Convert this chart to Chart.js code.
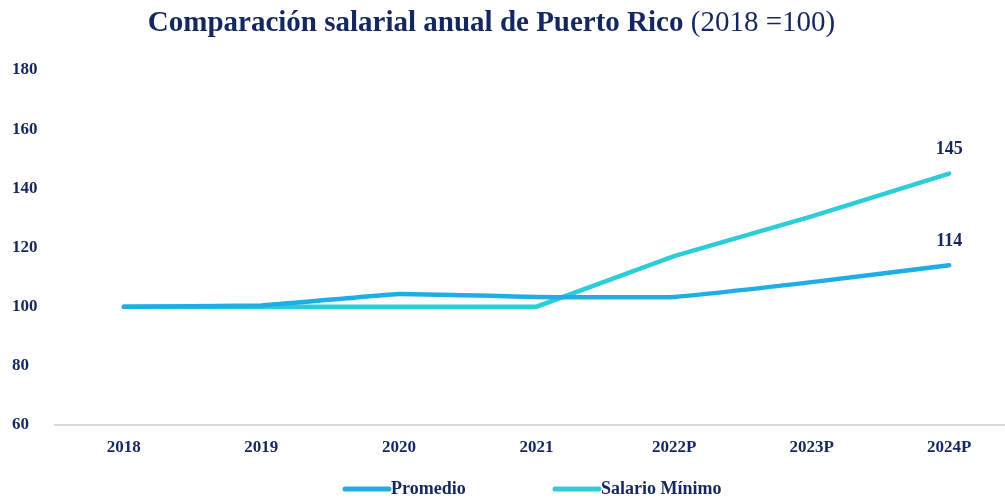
<!DOCTYPE html>
<html>
<head>
<meta charset="utf-8">
<script src="https://cdn.jsdelivr.net/npm/chart.js@4/dist/chart.umd.min.js"></script>
<style>
  html, body { margin: 0; padding: 0; background: #fff; overflow: hidden; }
  #wrap { position: relative; width: 1020px; height: 498px; }
  #title {
    position: absolute; left: 0; top: 5px; width: 983px; text-align: center;
    font-family: "Liberation Serif", "DejaVu Serif", serif; font-size: 29px;
    color: #14275e; font-weight: bold; white-space: nowrap;
  }
  #title span { font-weight: normal; }
</style>
</head>
<body>
<div id="wrap">
  <div id="title">Comparación salarial anual de Puerto Rico <span>(2018 =100)</span></div>
  <canvas id="c" width="1020" height="498"></canvas>
</div>
<script>
// values
var years = ['2018', '2019', '2020', '2021', '2022P', '2023P', '2024P'];
var promedio = [100, 100.4, 104.3, 103.3, 103.3, 108.3, 114];
var salarioMinimo = [100, 100, 100, 100, 117.1, 130.5, 145];
var yTicks = [60, 80, 100, 120, 140, 160, 180];

var navy = '#14275e';
var font = 'Liberation Serif';

// labels over the last point of each line
var endLabels = {
    id: 'endLabels',
    afterDatasetsDraw: function (chart) {
        var ctx = chart.ctx;
        ctx.save();
        ctx.font = 'bold 18px "' + font + '"';
        ctx.fillStyle = navy;
        ctx.textAlign = 'center';
        ctx.textBaseline = 'middle';
        chart.data.datasets.forEach(function (ds, i) {
            var pts = chart.getDatasetMeta(i).data;
            var p = pts[pts.length - 1];
            var v = ds.data[ds.data.length - 1];
            ctx.fillText(Math.round(v), p.x, p.y - 24);
        });
        ctx.restore();
    }
};

// legend at the bottom, items spread like the original
var bottomLegend = {
    id: 'bottomLegend',
    afterDraw: function (chart) {
        var ctx = chart.ctx;
        var starts = [345, 555];
        var y = 489;
        ctx.save();
        ctx.font = 'bold 18px "' + font + '"';
        ctx.textBaseline = 'middle';
        ctx.textAlign = 'left';
        chart.data.datasets.forEach(function (ds, i) {
            var x = starts[i];
            ctx.strokeStyle = ds.borderColor;
            ctx.lineWidth = 5;
            ctx.lineCap = 'round';
            ctx.beginPath();
            ctx.moveTo(x, y);
            ctx.lineTo(x + 44, y);
            ctx.stroke();
            ctx.fillStyle = navy;
            ctx.fillText(ds.label, x + 46, y);
        });
        ctx.restore();
    }
};

new Chart(document.getElementById('c'), {
    type: 'line',
    data: {
        labels: years,
        datasets: [{
            label: 'Promedio',
            data: promedio,
            borderColor: '#1fade6',
            backgroundColor: '#1fade6',
            borderWidth: 4.5,
            pointRadius: 0,
            borderCapStyle: 'round',
            tension: 0.08
        }, {
            label: 'Salario Mínimo',
            data: salarioMinimo,
            borderColor: '#2ccdd8',
            backgroundColor: '#2ccdd8',
            borderWidth: 4.5,
            pointRadius: 0,
            borderCapStyle: 'round',
            tension: 0
        }]
    },
    options: {
        responsive: false,
        animation: false,
        layout: { padding: { left: 12, right: 2, top: 70, bottom: 33 } },
        plugins: {
            title: { display: false },
            tooltip: { enabled: false },
            legend: { display: false }
        },
        scales: {
            x: {
                offset: true,
                grid: { display: false },
                border: { color: '#d9d9d9', width: 2 },
                afterFit: function (s) { s.height = 40; },
                ticks: {
                    color: navy,
                    padding: 4,
                    maxRotation: 0,
                    font: { family: font, size: 17, weight: 'bold' }
                }
            },
            y: {
                min: 60,
                max: 180,
                afterBuildTicks: function (s) {
                    s.ticks = yTicks.map(function (v) { return { value: v }; });
                },
                afterFit: function (s) { s.width = 43; },
                grid: { display: false },
                border: { display: false },
                ticks: {
                    color: navy,
                    crossAlign: 'far',
                    font: { family: font, size: 17, weight: 'bold' }
                }
            }
        }
    },
    plugins: [endLabels, bottomLegend]
});
</script>
</body>
</html>
